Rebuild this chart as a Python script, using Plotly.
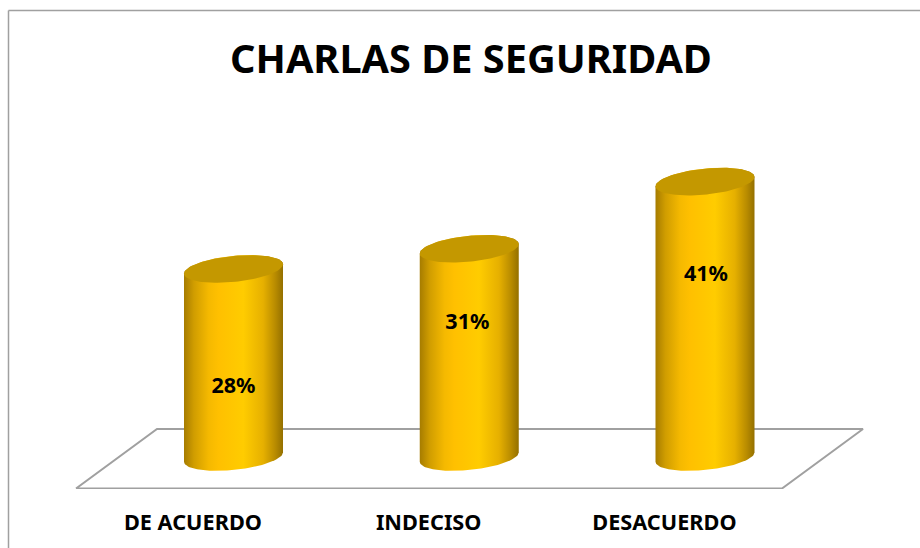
import numpy as np
import plotly.graph_objects as go

title = "CHARLAS DE SEGURIDAD"
categories = ["DE ACUERDO", "INDECISO", "DESACUERDO"]
values = [28, 31, 41]
value_labels = ["28%", "31%", "41%"]

W, H = 920, 548
FONT = "Noto Sans"
PX_X = 235.75          # px per category step
X0_PX = 233.5          # px position of first category
PX_Y = 6.717           # px per percentage point
BASE_PX = 457          # px position of the zero level
AXIS_PX = 489          # plot-area bottom (floor front edge)
A = 49.5 / PX_X        # cylinder half width
B = 13.0 / PX_Y        # ellipse half height
SHEAR = 4.7 / PX_Y     # ellipse tilt
LABEL_DROP = [119 / PX_Y, 75 / PX_Y, 94 / PX_Y]
LABEL_SHIFT = [0.0, -0.008, 0.004]
TICK_SHIFT = -0.172

BODY_SCALE = [[0, "#A67C00"], [0.1, "#D09D00"], [0.25, "#F5B900"], [0.35, "#FFC000"],
              [0.6, "#FFCC00"], [0.8, "#E6B000"], [0.92, "#B98C00"], [1, "#947000"]]
TOP_COLOR = "#C49800"
LINE = "#A0A0A0"


def ellipse(cx, cy, t):
    return cx + A * np.cos(t), cy + SHEAR * np.cos(t) + B * np.sin(t)


fig = go.Figure()

# floor
fx = lambda px: (px - X0_PX) / PX_X
fy = lambda px: (BASE_PX - px) / PX_Y
fig.add_trace(go.Scatter(
    x=[fx(76), fx(782), fx(863), fx(157), fx(76)],
    y=[fy(488.5), fy(488.5), fy(429), fy(429), fy(488.5)],
    mode="lines", line=dict(color=LINE, width=2), cliponaxis=False,
    hoverinfo="skip", showlegend=False))

for i, v in enumerate(values):
    tb = np.linspace(np.pi, 2 * np.pi, 60)   # lower half, base ellipse
    tt = np.linspace(0, np.pi, 60)           # back half, top ellipse
    bx, by = ellipse(i, 0, tb)
    ux, uy = ellipse(i, v, tt)
    fig.add_trace(go.Scatter(
        x=np.r_[bx, ux], y=np.r_[by, uy], mode="lines", fill="toself",
        line=dict(width=0, color="rgba(0,0,0,0)"),
        fillgradient=dict(type="horizontal", colorscale=BODY_SCALE),
        hoverinfo="skip", showlegend=False))
    t = np.linspace(0, 2 * np.pi, 120)
    ex, ey = ellipse(i, v, t)
    fig.add_trace(go.Scatter(
        x=ex, y=ey, mode="lines", fill="toself", fillcolor=TOP_COLOR,
        line=dict(width=0, color=TOP_COLOR), hoverinfo="skip", showlegend=False))

fig.add_trace(go.Scatter(
    x=[i + s for i, s in enumerate(LABEL_SHIFT)],
    y=[v - d for v, d in zip(values, LABEL_DROP)],
    text=value_labels, mode="text", textposition="middle center",
    textfont=dict(family=FONT, size=21.5, color="#000000", weight="bold"),
    hoverinfo="skip", showlegend=False))

fig.update_layout(
    width=W, height=H, autosize=False,
    margin=dict(l=0, r=0, t=0, b=H - AXIS_PX),
    paper_bgcolor="white", plot_bgcolor="white", showlegend=False,
    title=dict(text=title, x=471 / W, xanchor="center", y=1 - 59.5 / H, yanchor="middle",
               font=dict(family=FONT, size=39.7, color="#000000", weight="bold")),
    xaxis=dict(range=[fx(0), fx(W)], showgrid=False, zeroline=False, showline=False,
               tickmode="array", tickvals=[i + TICK_SHIFT for i in range(len(categories))],
               ticktext=categories, ticks="outside", ticklen=14, tickcolor="rgba(0,0,0,0)",
               tickfont=dict(family=FONT, size=21.7, color="#000000", weight="bold")),
    yaxis=dict(range=[fy(AXIS_PX), fy(0)], visible=False),
    shapes=[
        dict(type="line", xref="paper", yref="paper", x0=8.5 / W, x1=1,
             y0=1 - 10.5 / AXIS_PX, y1=1 - 10.5 / AXIS_PX, line=dict(color=LINE, width=1.5)),
        dict(type="line", xref="paper", yref="paper", x0=8.5 / W, x1=8.5 / W,
             y0=1 - 10.5 / AXIS_PX, y1=-(H - AXIS_PX) / AXIS_PX, line=dict(color=LINE, width=1.5)),
    ],
)

fig.write_html("out.html", config=dict(displayModeBar=False),
               post_script="document.body.style.margin='0';document.body.style.overflow='hidden';")
